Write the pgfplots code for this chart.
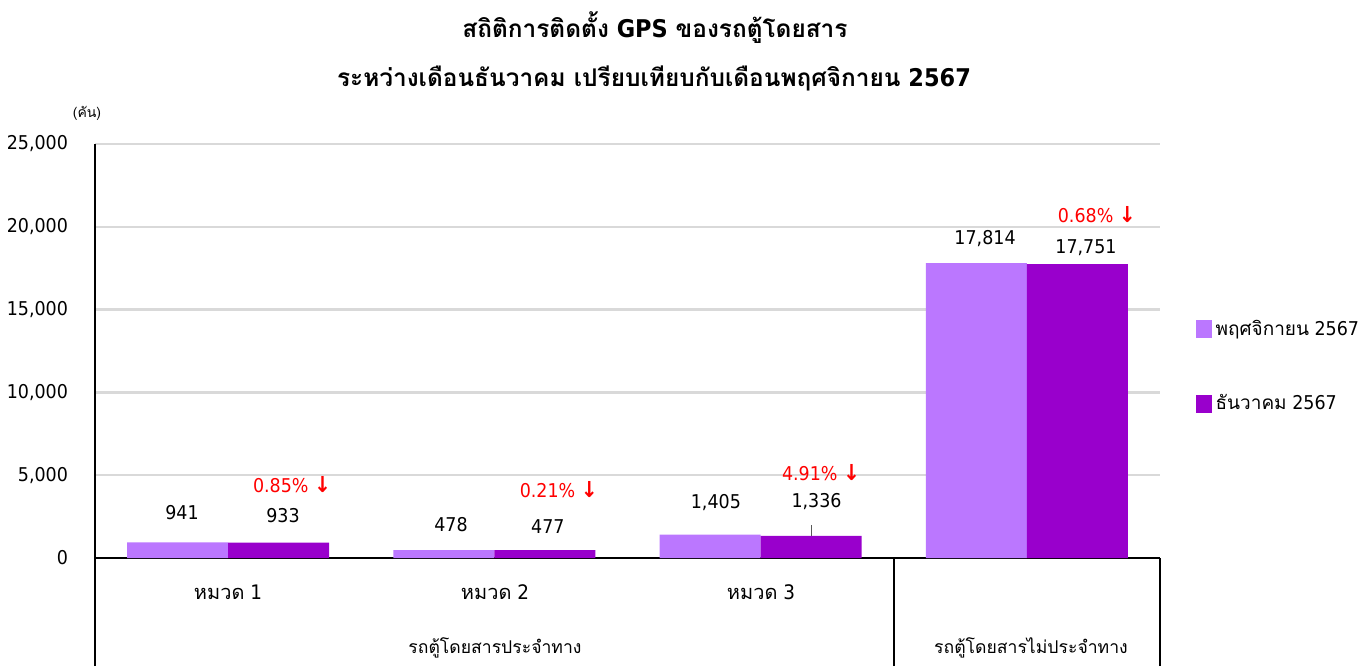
\documentclass[border=0pt]{standalone}
\usepackage{fontspec}
\usepackage{pgfplots}
\pgfplotsset{compat=1.18}
\setmainfont{DejaVu Sans}[FakeStretch=0.92]
\newfontfamily\thai[Script=Thai]{Loma}
\definecolor{lp}{RGB}{187,119,255}
\definecolor{dp}{RGB}{153,0,204}
\definecolor{gl}{RGB}{217,217,217}
\newcommand{\nf}{\fontsize{9.5}{11}\selectfont}
\newcommand{\dn}{{\fontsize{11}{12}\selectfont\textbf{↓}}}
\begin{document}
\begin{tikzpicture}
\useasboundingbox (0,0) rectangle (684.5pt,333pt);
\begin{axis}[
  at={(47.5pt,54pt)}, anchor=south west,
  scale only axis, width=532.5pt, height=207pt,
  xmin=-0.5, xmax=3.5, ymin=0, ymax=25000,
  axis x line*=bottom, axis y line*=left,
  axis line style={line width=0.6pt,-},
  xtick=\empty,
  ytick={0,5000,10000,15000,20000,25000},
  scaled y ticks=false,
  tick style={draw=none},
  ymajorgrids, grid style={gl, line width=1.2pt},
  ybar=0pt, bar width=50.5pt,
  yticklabel style={font=\nf, xshift=-10pt},
  /pgf/number format/fixed,
  /pgf/number format/1000 sep={,},
  /pgf/number format/assume math mode=true,
  clip=false,
  legend style={at={(1.033,0.4626)}, anchor=west, draw=none, fill=none,
    inner sep=0pt, row sep=24pt, font=\fontsize{9.5}{11}\selectfont,
    /tikz/every even column/.append style={column sep=5pt}},
  legend cell align=left,
  legend image code/.code={\path[#1] (0pt,-4.5pt) rectangle (8pt,4.5pt);},
]
\addplot[fill=lp, draw=none] coordinates {(0,941) (1,478) (2,1405) (3,17814)};
\addlegendentry{{\thai พฤศจิกายน} 2567}
\addplot[fill=dp, draw=none] coordinates {(0,933) (1,477) (2,1336) (3,17751)};
\addlegendentry{{\thai ธันวาคม} 2567}

% value labels
\node[font=\nf] at (axis cs:-0.173,2717) {941};
\node[font=\nf] at (axis cs:0.206,2536) {933};
\node[font=\nf] at (axis cs:0.837,1993) {478};
\node[font=\nf] at (axis cs:1.201,1872) {477};
\node[font=\nf] at (axis cs:1.832,3321) {1,405};
\node[font=\nf] at (axis cs:2.21,3382) {1,336};
\node[font=\nf] at (axis cs:2.843,19263) {17,814};
\node[font=\nf] at (axis cs:3.222,18720) {17,751};
\draw[gray!70!black, line width=0.5pt] (axis cs:2.19,1336) -- (axis cs:2.19,1993);
% percent changes
\node[font=\nf, text=red] at (axis cs:0.24,4408) {0.85\% \dn};
\node[font=\nf, text=red] at (axis cs:1.242,4106) {0.21\% \dn};
\node[font=\nf, text=red] at (axis cs:2.227,5133) {4.91\% \dn};
\node[font=\nf, text=red] at (axis cs:3.263,20713) {0.68\% \dn};
\end{axis}
% separators
\draw[black, line width=0.6pt] (47.5pt,0pt) -- (47.5pt,54pt);
\draw[black, line width=0.6pt] (447pt,0pt) -- (447pt,54pt);
\draw[black, line width=0.6pt] (580pt,0pt) -- (580pt,54pt);
% category labels
\node[font=\fontsize{10}{12}\selectfont] at (114pt,37pt) {{\thai หมวด} 1};
\node[font=\fontsize{10}{12}\selectfont] at (247.5pt,37pt) {{\thai หมวด} 2};
\node[font=\fontsize{10}{12}\selectfont] at (380.5pt,37pt) {{\thai หมวด} 3};
\node[font=\fontsize{8.8}{11}\selectfont\thai] at (247.5pt,9pt) {รถตู้โดยสารประจำทาง};
\node[font=\fontsize{8.8}{11}\selectfont\thai] at (515.5pt,9pt) {รถตู้โดยสารไม่ประจำทาง};
% titles
\node[font=\bfseries\fontsize{12.2}{14}\selectfont] at (327.5pt,319pt) {{\thai สถิติการติดตั้ง} GPS {\thai ของรถตู้โดยสาร}};
\node[font=\bfseries\fontsize{12.2}{14}\selectfont] at (327pt,294pt) {{\thai ระหว่างเดือนธันวาคม เปรียบเทียบกับเดือนพฤศจิกายน} 2567};
\node[font=\fontsize{7}{8}\selectfont\thai] at (43.5pt,276.5pt) {(คัน)};
\end{tikzpicture}
\end{document}
